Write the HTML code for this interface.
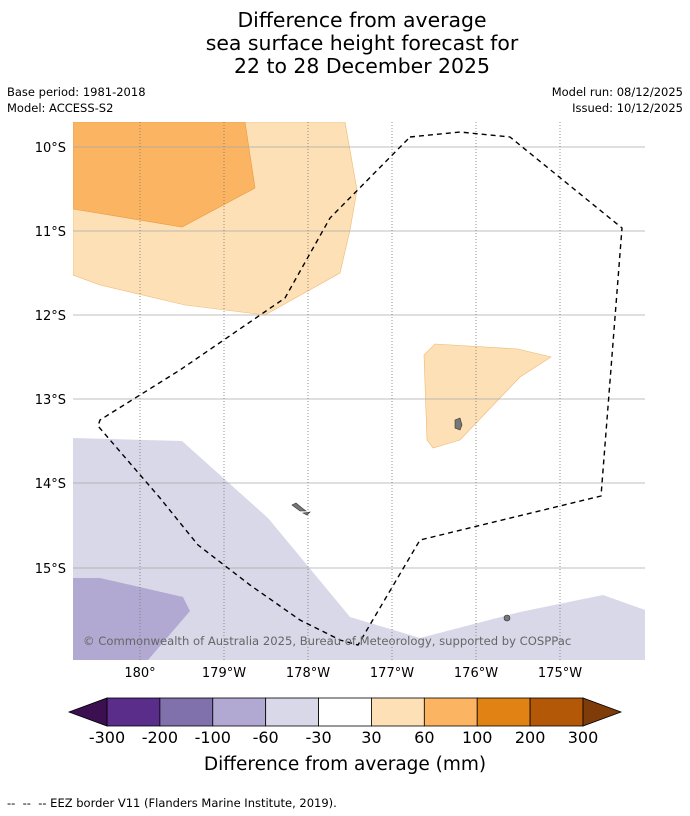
<!DOCTYPE html>
<html><head><meta charset="utf-8">
<style>
body{margin:0;background:#fff;font-family:"DejaVu Sans",sans-serif;}
svg{display:block}
</style></head>
<body>
<svg width="690" height="816" viewBox="0 0 690 816" xmlns="http://www.w3.org/2000/svg" font-family="DejaVu Sans, sans-serif">
<g text-anchor="middle" font-size="20.4">
<text x="362" y="27">Difference from average</text>
<text x="362" y="50">sea surface height forecast for</text>
<text x="362" y="73">22 to 28 December 2025</text>
</g>
<g font-size="11.5">
<text x="7" y="96">Base period: 1981-2018</text>
<text x="7" y="112">Model: ACCESS-S2</text>
<text x="683" y="96" text-anchor="end">Model run: 08/12/2025</text>
<text x="683" y="112" text-anchor="end">Issued: 10/12/2025</text>
</g>
<defs><clipPath id="mapclip"><rect x="73" y="122" width="572" height="538"/></clipPath></defs>
<g clip-path="url(#mapclip)">
<polygon fill="#fde0b5" stroke="#f0b870" stroke-width="0.6" points="73,122 345,122 357,190 350,230 340,273 265,315 185,305 100,285 73,275"/>
<polygon fill="#fbb562" stroke="#e89a40" stroke-width="0.6" points="73,122 245,122 255,188 182,227 73,209"/>
<polygon fill="#fde0b5" stroke="#f0b870" stroke-width="0.6" points="435,344 518,349 551,357 520,377 460,440 433,448 427,440 424,355"/>
<polygon fill="#d8d8e8" points="73,438 182,441 268,518 350,617 420,638 520,612 603,595 645,610 645,660 73,660"/>
<polygon fill="#b1a9d1" points="73,578 100,578 183,597 190,611 148,660 73,660"/>
<g stroke="#aaa" stroke-width="0.8">
<line x1="73" x2="645" y1="147" y2="147"/><line x1="73" x2="645" y1="231" y2="231"/><line x1="73" x2="645" y1="315" y2="315"/><line x1="73" x2="645" y1="399" y2="399"/><line x1="73" x2="645" y1="483" y2="483"/><line x1="73" x2="645" y1="568" y2="568"/>
</g>
<g stroke="#777" stroke-width="0.8" stroke-dasharray="1,2">
<line x1="140" x2="140" y1="122" y2="660"/><line x1="224" x2="224" y1="122" y2="660"/><line x1="308" x2="308" y1="122" y2="660"/><line x1="392" x2="392" y1="122" y2="660"/><line x1="476" x2="476" y1="122" y2="660"/><line x1="560" x2="560" y1="122" y2="660"/>
</g>
<polygon fill="none" stroke="#000" stroke-width="1.4" stroke-dasharray="5,4" points="410,137 460,132 510,137 622,228 601,496 420,540 358,645 340,640 300,620 250,585 198,545 160,498 98,426 100,420 180,370 285,298 330,218"/>
<g fill="#777" stroke="#333" stroke-width="0.6">
<path d="M455,420 L460,418 L462,425 L460,430 L455,428 Z"/>
<path d="M292,505 L296,503 L302,508 L306,511 L300,511 Z"/>
<path d="M303,513 L310,512 L307,515 Z"/>
<circle cx="507" cy="618" r="3"/>
</g>
<text x="83" y="645" font-size="11.6" fill="#666">© Commonwealth of Australia 2025, Bureau of Meteorology, supported by COSPPac</text>
</g>
<g font-size="13" text-anchor="end">
<text x="66" y="152">10°S</text><text x="66" y="236">11°S</text><text x="66" y="320">12°S</text><text x="66" y="404">13°S</text><text x="66" y="488">14°S</text><text x="66" y="573">15°S</text>
</g>
<g font-size="13" text-anchor="middle">
<text x="140" y="677">180°</text><text x="224" y="677">179°W</text><text x="308" y="677">178°W</text><text x="392" y="677">177°W</text><text x="476" y="677">176°W</text><text x="560" y="677">175°W</text>
</g>
<g id="cbar"></g>
<text x="345" y="770" text-anchor="middle" font-size="18.5">Difference from average (mm)</text>
<text x="7" y="807" font-size="11.5" xml:space="preserve">--  --  -- EEZ border V11 (Flanders Marine Institute, 2019).</text>
</svg>
<script>
const boundaries = [-300,-200,-100,-60,-30,30,60,100,200,300];
const colors = ["#5a2d8a","#8071ad","#b1a9d1","#d8d8e8","#ffffff","#fde0b5","#fbb562","#e08214","#b35806"];
const extendColors = ["#3b0f50","#7f3b08"];
const ns="http://www.w3.org/2000/svg";
const g=document.getElementById('cbar');
const x0=107,x1=583,y0=698,h=28;
const seg=(x1-x0)/colors.length;
function bx(i){return x0+i*seg;}
colors.forEach((c,i)=>{
  const r=document.createElementNS(ns,'rect');
  r.setAttribute('x',bx(i));r.setAttribute('y',y0);r.setAttribute('width',seg);r.setAttribute('height',h);
  r.setAttribute('fill',c);r.setAttribute('stroke','#000');r.setAttribute('stroke-width','0.8');
  
  
  g.appendChild(r);
});
[[`${x0},${y0} ${x0},${y0+h} 69,${y0+h/2}`,extendColors[0]],[`${x1},${y0} ${x1},${y0+h} 621,${y0+h/2}`,extendColors[1]]].forEach(([p,c])=>{
  const t=document.createElementNS(ns,'polygon');
  t.setAttribute('points',p);t.setAttribute('fill',c);t.setAttribute('stroke','#000');t.setAttribute('stroke-width','0.8');
  
  
  g.appendChild(t);
});
boundaries.forEach((b,i)=>{
  const t=document.createElementNS(ns,'text');
  t.setAttribute('x',bx(i));t.setAttribute('y',743);t.setAttribute('text-anchor','middle');t.setAttribute('font-size','16');
  t.textContent=b;
  
  
  g.appendChild(t);
});
</script>
</body></html>
